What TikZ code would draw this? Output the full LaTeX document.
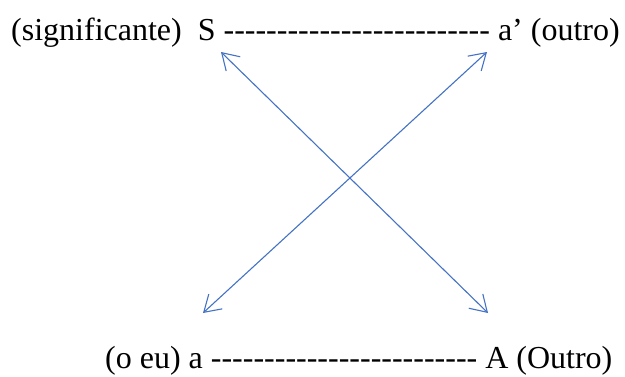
\documentclass[tikz,border=0pt]{standalone}
\usepackage{fontspec}
\setmainfont{Liberation Serif}[Ligatures=TeXOff]
\usetikzlibrary{arrows.meta,positioning}
\definecolor{linkblue}{RGB}{68,114,196}
\newcommand{\DashRun}[1]{\foreach \k in {1,...,#1}{-}}
\tikzset{
  lbl/.style={font=\fontsize{32}{38}\selectfont, inner sep=0pt, anchor=base west},
  link/.style={
    draw=linkblue,
    line width=1.1pt,
    {Straight Barb[length=16pt,width=20pt]}-{Straight Barb[length=16pt,width=20pt]}
  },
}

\begin{document}
\begin{tikzpicture}[x=1pt,y=-1pt]
  \useasboundingbox (0,0) rectangle (625,376);
  % the two lines of the schema
  \node[lbl] (topline) at (11,40) {(significante)~~S \DashRun{25} a’ (outro)};
  \node[lbl] (botline) at (105,368) {(o eu) a \DashRun{25} A (Outro)};
  % ends of the crossing arrows
  \coordinate (tipS) at (221,52);
  \coordinate (tipa') at (487,52);
  \coordinate (tipa) at (203,313);
  \coordinate (tipA) at (488,313);
  \draw[link] (tipS) -- (tipA);
  \draw[link] (tipa) -- (tipa');
\end{tikzpicture}
\end{document}
